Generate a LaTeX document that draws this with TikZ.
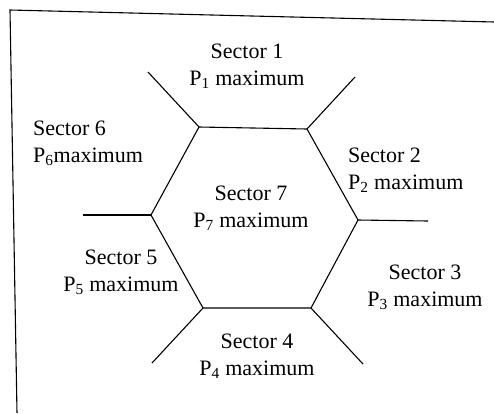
\documentclass[tikz,border=0pt]{standalone}
\usepackage{fontspec}
\setmainfont{Liberation Serif}
\usetikzlibrary{positioning}

\begin{document}
\begin{tikzpicture}[x=1pt, y=-1pt,
  edge/.style={line width=1.1pt},
  sector/.style={align=center, inner sep=0pt, font=\fontsize{22}{27}\selectfont}]
  \useasboundingbox (0,0) rectangle (494,413);
  % Frame (left and top edges)
  \draw[edge] (17,413) -- (10,10) -- (494,22);
  % Hexagon corners
  \coordinate (c1) at (199,127);
  \coordinate (c2) at (307,129);
  \coordinate (c3) at (358,220);
  \coordinate (c4) at (311,308);
  \coordinate (c5) at (203,308);
  \coordinate (c6) at (151,215);
  \draw[edge] (c1) -- (c2) -- (c3) -- (c4) -- (c5) -- (c6) -- cycle;
  % Spokes out of each corner
  \coordinate (s1) at (148,72);
  \coordinate (s2) at (355,77);
  \coordinate (s3) at (428,221);
  \coordinate (s4) at (363,364);
  \coordinate (s5) at (152,363);
  \coordinate (s6) at (83,215);
  \foreach \i in {1,...,6}
    \draw[edge] (c\i) -- (s\i);
  % Sector labels
  \node[sector] (sec1) at (247,66) {Sector 1\\P\textsubscript{1} maximum};
  \node[sector, align=left, anchor=west] (sec2) at (348,170) {Sector 2\\P\textsubscript{2} maximum};
  \node[sector] (sec3) at (425,287) {Sector 3\\P\textsubscript{3} maximum};
  \node[sector] (sec4) at (257,356) {Sector 4\\P\textsubscript{4} maximum};
  \node[sector] (sec5) at (121,272) {Sector 5\\P\textsubscript{5} maximum};
  \node[sector, align=left, anchor=west] (sec6) at (33,143) {Sector 6\\P\textsubscript{6}maximum};
  \node[sector] (sec7) at (251,208) {Sector 7\\P\textsubscript{7} maximum};
\end{tikzpicture}
\end{document}
